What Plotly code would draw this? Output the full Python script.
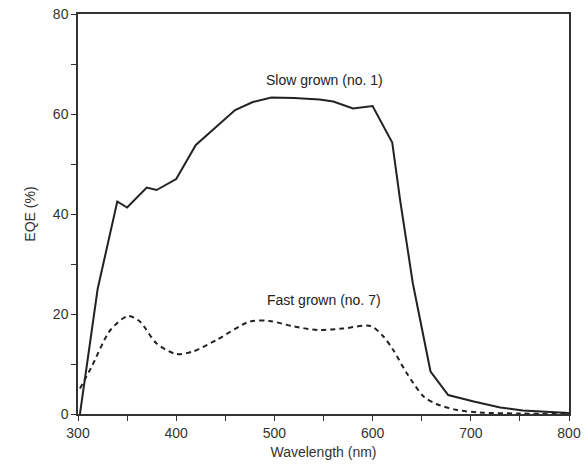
import plotly.graph_objects as go

# Slow grown (no. 1)
slow_wl = [302, 320, 340, 350, 370, 380, 400, 420, 440, 460, 478, 497, 520, 546, 560, 580, 600, 620, 628, 641, 659, 677, 703, 730, 753, 800]
slow_eqe = [0, 25, 42.5, 41.3, 45.3, 44.8, 47, 53.8, 57.3, 60.8, 62.4, 63.3, 63.2, 62.9, 62.5, 61.1, 61.6, 54.3, 42.8, 26.1, 8.5, 3.8, 2.5, 1.3, 0.7, 0.2]

# Fast grown (no. 7)
fast_wl = [302, 314, 333, 351, 363, 380, 400, 417, 441, 475, 495, 520, 545, 570, 598, 611, 621, 635, 652, 665, 686, 709, 750, 800]
fast_eqe = [5.1, 9.5, 16.8, 19.6, 18.5, 14.1, 12, 12.5, 14.8, 18.5, 18.6, 17.5, 16.8, 17.1, 17.6, 15.5, 12.8, 8.1, 3.5, 2.0, 0.8, 0.3, 0.1, 0]

x_ticks = [300, 400, 500, 600, 700, 800]
y_ticks = [0, 20, 40, 60, 80]

labels = ["Slow grown (no. 1)", "Fast grown (no. 7)"]
label_pos = [(551, 66.8), (551, 22.8)]

FONT = "Liberation Sans Narrow, Arial Narrow, Liberation Sans, Arial, sans-serif"
ink = "#222222"

fig = go.Figure()
fig.add_trace(go.Scatter(x=slow_wl, y=slow_eqe, mode="lines",
                         line=dict(color=ink, width=2), showlegend=False))
fig.add_trace(go.Scatter(x=fast_wl, y=fast_eqe, mode="lines",
                         line=dict(color=ink, width=2, dash="5px,4px", shape="spline", smoothing=0.8),
                         showlegend=False))

for txt, (xx, yy) in zip(labels, label_pos):
    fig.add_annotation(x=xx, y=yy, text=txt, showarrow=False,
                       font=dict(family=FONT, size=14, color=ink))

axis_common = dict(showline=True, linecolor="#333333", linewidth=1.5, mirror=True,
                   ticks="outside", ticklen=5, tickwidth=1.2, tickcolor="#333333",
                   showgrid=False, zeroline=False, automargin=False,
                   tickfont=dict(family=FONT, size=14, color="#333333"))

fig.update_xaxes(range=[300, 800], tickvals=x_ticks,
                 minor=dict(tickvals=[350, 450, 550, 650, 750], ticks="outside", ticklen=5, tickwidth=1.2, tickcolor="#333333"),
                 title=dict(text="Wavelength (nm)", font=dict(family=FONT, size=14, color="#333333"), standoff=8),
                 **axis_common)
fig.update_yaxes(range=[0, 80], tickvals=y_ticks,
                 minor=dict(tickvals=[10, 30, 50, 70], ticks="outside", ticklen=5, tickwidth=1.2, tickcolor="#333333"),
                 title=dict(text="EQE (%)", font=dict(family=FONT, size=14, color="#333333"), standoff=14),
                 **axis_common)

fig.update_layout(width=584, height=468, margin=dict(l=78, r=15, t=14, b=54, autoexpand=False),
                  plot_bgcolor="white", paper_bgcolor="white")

fig.write_html("out.html")
